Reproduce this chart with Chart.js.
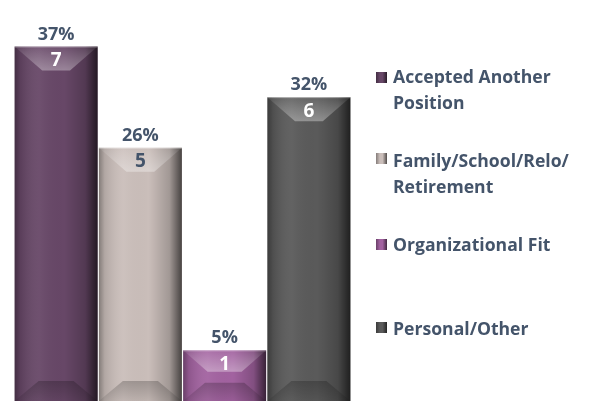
<!DOCTYPE html>
<html><head><meta charset="utf-8">
<script src="https://cdn.jsdelivr.net/npm/chart.js@4"></script>
<style>
html,body{margin:0;padding:0;background:#fff;}
#wrap{position:relative;width:592px;height:403px;overflow:hidden;}
#legend{position:absolute;left:0;top:0;width:592px;height:403px;font-family:"Open Sans",Lato,sans-serif;font-weight:bold;font-size:17.6px;color:#44546A;pointer-events:none;}
.item{position:absolute;left:376px;white-space:nowrap;line-height:26px;}
.mk{position:absolute;width:11px;height:11px;}
.tx{position:absolute;left:17px;top:0;}
</style></head>
<body>
<div id="wrap">
<canvas id="c" width="592" height="403"></canvas>
<div id="legend"></div>
</div>
<script>
// ---- data ----
const categories = [["Accepted Another","Position"],["Family/School/Relo/","Retirement"],["Organizational Fit"],["Personal/Other"]];
const counts = [7, 5, 1, 6];
const percentLabels = ["37%", "26%", "5%", "32%"];

// ---- styles ----
const baseColors = ["#674767", "#CABEBA", "#A262A0", "#5A5A5A"];
const labelColors = ["#ffffff", "#44546A", "#ffffff", "#ffffff"];
const legendTops = [63, 147, 231, 315];
const markerTops = [72, 153, 239, 322];

const datasets = categories.map((c, i) => ({
  label: c.join(" "),
  data: [counts[i]],
  backgroundColor: baseColors[i],
  borderWidth: 0,
  categoryPercentage: 1,
  barPercentage: 0.985
}));

const bevel = {
  id: 'bevel',
  afterDatasetDraw(chart, args) {
    const ctx = chart.ctx;
    args.meta.data.forEach(el => {
      const p = el.getProps(['x','y','base','width'], true);
      const l = p.x - p.width/2, r = p.x + p.width/2, t = p.y, b = p.base;
      const h = b - t;
      const bt = Math.min(24, h*0.42), bb = Math.min(20, h*0.36);
      const it = Math.min(28, bt*1.15), ib = bb*1.2;
      ctx.save();
      const g = ctx.createLinearGradient(l,0,r,0);
      g.addColorStop(0,'rgba(0,0,0,0.35)');
      g.addColorStop(0.07,'rgba(0,0,0,0.12)');
      g.addColorStop(0.3,'rgba(255,255,255,0.05)');
      g.addColorStop(0.6,'rgba(0,0,0,0.0)');
      g.addColorStop(0.85,'rgba(0,0,0,0.2)');
      g.addColorStop(1,'rgba(0,0,0,0.65)');
      ctx.fillStyle = g; ctx.fillRect(l,t,r-l,h);
      ctx.beginPath(); ctx.moveTo(l,t); ctx.lineTo(r,t); ctx.lineTo(r-it,t+bt); ctx.lineTo(l+it,t+bt); ctx.closePath();
      const gt = ctx.createLinearGradient(0,t,0,t+bt);
      gt.addColorStop(0,'rgba(255,255,255,0.06)');
      gt.addColorStop(1,'rgba(255,255,255,0.34)');
      ctx.fillStyle = gt; ctx.fill();
      ctx.beginPath(); ctx.moveTo(l,b); ctx.lineTo(r,b); ctx.lineTo(r-ib,b-bb); ctx.lineTo(l+ib,b-bb); ctx.closePath();
      const gb = ctx.createLinearGradient(0,b-bb,0,b);
      gb.addColorStop(0,'rgba(0,0,0,0.22)');
      gb.addColorStop(1,'rgba(0,0,0,0.06)');
      ctx.fillStyle = gb; ctx.fill();
      ctx.fillStyle = 'rgba(255,255,255,0.35)';
      ctx.fillRect(l, t, r-l, 1);
      ctx.restore();
    });
  }
};

const labelsPlugin = {
  id: 'valLabels',
  afterDatasetsDraw(chart) {
    const ctx = chart.ctx;
    ctx.save();
    ctx.textAlign = 'center';
    ctx.textBaseline = 'middle';
    chart.data.datasets.forEach((ds, i) => {
      const meta = chart.getDatasetMeta(i);
      meta.data.forEach(el => {
        const p = el.getProps(['x','y'], true);
        ctx.font = 'bold 18px "Open Sans", Lato, sans-serif';
        ctx.fillStyle = '#44546A';
        ctx.fillText(percentLabels[i], p.x, p.y - 12);
        ctx.font = 'bold 19px "Open Sans", Lato, sans-serif';
        ctx.fillStyle = labelColors[i];
        ctx.fillText(String(ds.data[0]), p.x, p.y + 14);
      });
    });
    ctx.restore();
  }
};

new Chart(document.getElementById('c'), {
  type: 'bar',
  data: { labels: [''], datasets },
  options: {
    responsive: false,
    animation: false,
    layout: { padding: { left: 14, right: 241, top: 6, bottom: 2 } },
    plugins: { legend: { display: false }, tooltip: { enabled: false } },
    scales: {
      x: { display: false },
      y: { display: false, min: 0, max: 7.8 }
    }
  },
  plugins: [bevel, labelsPlugin]
});

const lg = document.getElementById('legend');
categories.forEach((c, i) => {
  const it = document.createElement('div');
  it.className = 'item';
  it.style.top = legendTops[i] + 'px';
  const tx = document.createElement('div');
  tx.className = 'tx';
  tx.innerHTML = c.map(s => s.replace(/&/g,'&amp;').replace(/</g,'&lt;')).join('<br>');
  it.appendChild(tx);
  lg.appendChild(it);
  const mk = document.createElement('div');
  mk.className = 'mk';
  mk.style.left = '376px';
  mk.style.top = markerTops[i] + 'px';
  mk.style.background = 'linear-gradient(90deg, rgba(0,0,0,0.35), rgba(0,0,0,0) 35%, rgba(0,0,0,0) 60%, rgba(0,0,0,0.6)), ' + baseColors[i];
  lg.appendChild(mk);
});
</script>
</body></html>
